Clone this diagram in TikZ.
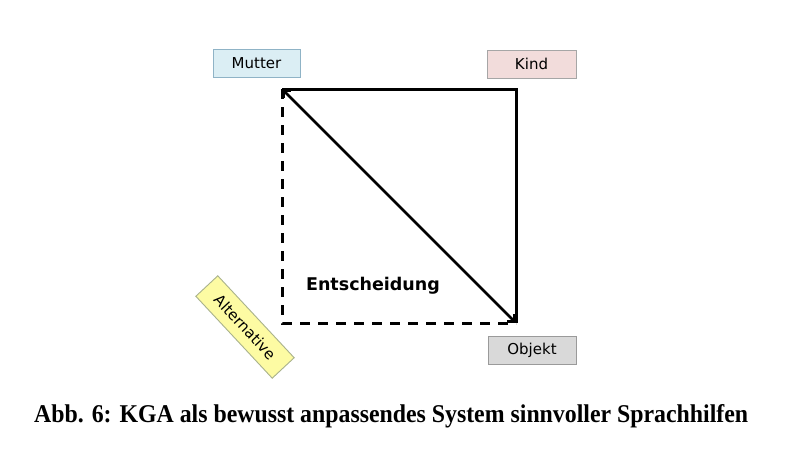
\documentclass[tikz,border=0pt]{standalone}
\usepackage{fontspec}
\setmainfont{Liberation Serif}
\newfontfamily\labelfont{DejaVu Sans}
\usetikzlibrary{arrows.meta}
\definecolor{mutterfill}{HTML}{DBEEF4}
\definecolor{mutterdraw}{HTML}{8FB3C6}
\definecolor{kindfill}{HTML}{F2DCDB}
\definecolor{kinddraw}{HTML}{A6A6A6}
\definecolor{objfill}{HTML}{D9D9D9}
\definecolor{objdraw}{HTML}{9A9A9A}
\definecolor{altfill}{HTML}{FDFBA3}
\definecolor{altdraw}{HTML}{A9B28C}
\tikzset{
  rolebox/.style={draw, line width=0.9pt, minimum width=#1, minimum height=28pt, inner sep=0pt,
    font=\labelfont\fontsize{15}{17}\selectfont},
  edge/.style={line width=3pt},
  dashedge/.style={line width=3pt, dash pattern=on 10pt off 8pt},
  diag/.style={line width=2.5pt, {Straight Barb[angle=90:7pt,line width=2.5pt]}-{Straight Barb[angle=90:7pt,line width=2.5pt]}}
}
\begin{document}
\begin{tikzpicture}[x=1pt,y=-1pt]
\useasboundingbox (0,0) rectangle (792,466);
\fill[white] (0,0) rectangle (792,466);
\coordinate (tl) at (282,89);
\coordinate (tr) at (516,89);
\coordinate (br) at (516,323);
\coordinate (bl) at (282,323);
\draw[edge, line join=miter] (tl) -- (tr) -- (br);
\draw[dashedge] (tl) -- (bl) -- (br);
\draw[diag, shorten <=0.5pt, shorten >=0.5pt] (tl) -- (br);
\node[rolebox=87pt, fill=mutterfill, draw=mutterdraw] (mutter) at (256.5,63) {Mutter};
\node[rolebox=89pt, fill=kindfill, draw=kinddraw] (kind) at (531.5,64) {Kind};
\node[rolebox=88pt, fill=objfill, draw=objdraw] (objekt) at (532,350) {Objekt};
\node[rolebox=112pt, minimum height=30pt, fill=altfill, draw=altdraw, rotate=-47] (alt) at (245,327) {Alternative};
\node[font=\labelfont\bfseries\fontsize{17.5}{20}\selectfont, anchor=base] (ent) at (373,290) {Entscheidung};
\node[anchor=base west, inner sep=0pt] (cap) at (34,422) {\resizebox{714pt}{18pt}{\bfseries Abb. 6: KGA als bewusst anpassendes System sinnvoller Sprachhilfen}};
\end{tikzpicture}
\end{document}
